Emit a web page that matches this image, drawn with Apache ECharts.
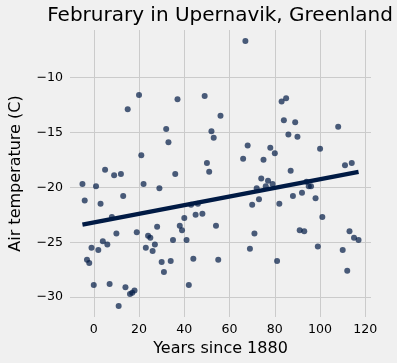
<!DOCTYPE html>
<html>
<head>
<meta charset="utf-8">
<script src="https://cdn.jsdelivr.net/npm/echarts@6/dist/echarts.min.js"></script>
<style>
html,body{margin:0;padding:0;background:#f0f0f0;}
#c{width:397px;height:363px;}
</style>
</head>
<body>
<div id="c"></div>
<script>
const years = [20,15,32,33,21,5,67,37,49,56,52,53,68,78,66,75,50,83,85,84,89,108,86,90,80,100,111,114,9,12,-5,1,22,36,29,-4,3,13,8,10,19,28,24,25,35,4,6,-1,2,23,27,26,-3,-2,30,34,31,0,7,14,18,17,16,11,51,74,77,72,76,79,43,46,45,48,40,38,39,54,70,73,71,41,69,44,55,42,87,92,88,98,82,101,91,93,99,113,115,117,110,81,112,95,96,94];
const temps = [-11.6,-12.9,-14.7,-15.9,-17.1,-18.4,-6.7,-12.0,-11.7,-13.5,-14.9,-15.5,-16.2,-16.4,-17.4,-17.5,-17.8,-12.2,-11.9,-13.9,-14.1,-14.5,-15.2,-15.4,-16.9,-16.5,-18.0,-17.8,-18.9,-18.8,-19.7,-19.9,-19.7,-18.8,-20.1,-21.2,-21.5,-20.8,-22.7,-24.2,-24.1,-23.6,-24.4,-24.6,-24.8,-24.9,-25.2,-25.5,-25.7,-25.5,-25.2,-25.8,-26.6,-26.9,-26.8,-26.7,-27.7,-28.9,-28.8,-29.1,-29.4,-29.6,-29.7,-30.8,-18.6,-19.2,-19.4,-20.1,-19.9,-19.7,-21.6,-21.5,-22.5,-22.4,-22.8,-23.5,-23.9,-23.5,-21.6,-21.1,-24.2,-24.8,-25.6,-26.5,-26.6,-28.9,-18.5,-20.5,-20.8,-21.0,-21.5,-22.7,-23.9,-24.0,-25.4,-24.0,-24.6,-24.8,-25.7,-26.7,-27.6,-19.9,-19.9,-19.5];
const fitYears = [-5, 117];
const fitTemps = [-23.4, -18.6];
const xTicks = [0,20,40,60,80,100,120];
const yTicks = [-30,-25,-20,-15,-10];

const font = 'DejaVu Sans';
const fmt = (ticks) => (v) => {
  for (const t of ticks) if (Math.abs(v - t) < 1e-6) return t < 0 ? '\u2212' + (-t) : String(t);
  return '';
};
const chart = echarts.init(document.getElementById('c'));
chart.setOption({
  backgroundColor: '#f0f0f0',
  animation: false,
  title: {
    text: 'Februrary in Upernavik, Greenland',
    left: 215, top: 1, textAlign: 'center',
    textStyle: {fontFamily: font, fontSize: 20, fontWeight: 'normal', color: '#000'}
  },
  grid: {left: 61, right: 26, top: 30, bottom: 46, containLabel: false},
  xAxis: {
    type: 'value', min: -10.5, max: 122.5, minInterval: 20, maxInterval: 20,
    name: 'Years since 1880', nameLocation: 'middle', nameGap: 23,
    nameTextStyle: {fontFamily: font, fontSize: 16, color: '#000'},
    axisLine: {show: false}, axisTick: {show: false},
    axisLabel: {fontFamily: font, fontSize: 12.6, color: '#000', margin: 6, formatter: fmt(xTicks)},
    splitLine: {show: true, showMinLine: false, showMaxLine: false, lineStyle: {color: '#cbcbcb', width: 1}}
  },
  yAxis: {
    type: 'value', min: -31.8, max: -5.7, minInterval: 5, maxInterval: 5,
    name: 'Air temperature (C)', nameLocation: 'middle', nameGap: 46, nameRotate: 90,
    nameTextStyle: {fontFamily: font, fontSize: 16, color: '#000'},
    axisLine: {show: false}, axisTick: {show: false},
    axisLabel: {fontFamily: font, fontSize: 12.6, color: '#000', margin: 7, formatter: fmt(yTicks)},
    splitLine: {show: true, showMinLine: false, showMaxLine: false, lineStyle: {color: '#cbcbcb', width: 1}}
  },
  series: [
    {
      type: 'scatter', symbolSize: 6,
      data: years.map((y, i) => [y, temps[i]]),
      itemStyle: {color: '#001a44', opacity: 0.7}
    },
    {
      type: 'line', showSymbol: false, symbol: 'none',
      data: fitYears.map((y, i) => [y, fitTemps[i]]),
      lineStyle: {color: '#001a44', width: 4.5}
    }
  ]
});
</script>
</body>
</html>
